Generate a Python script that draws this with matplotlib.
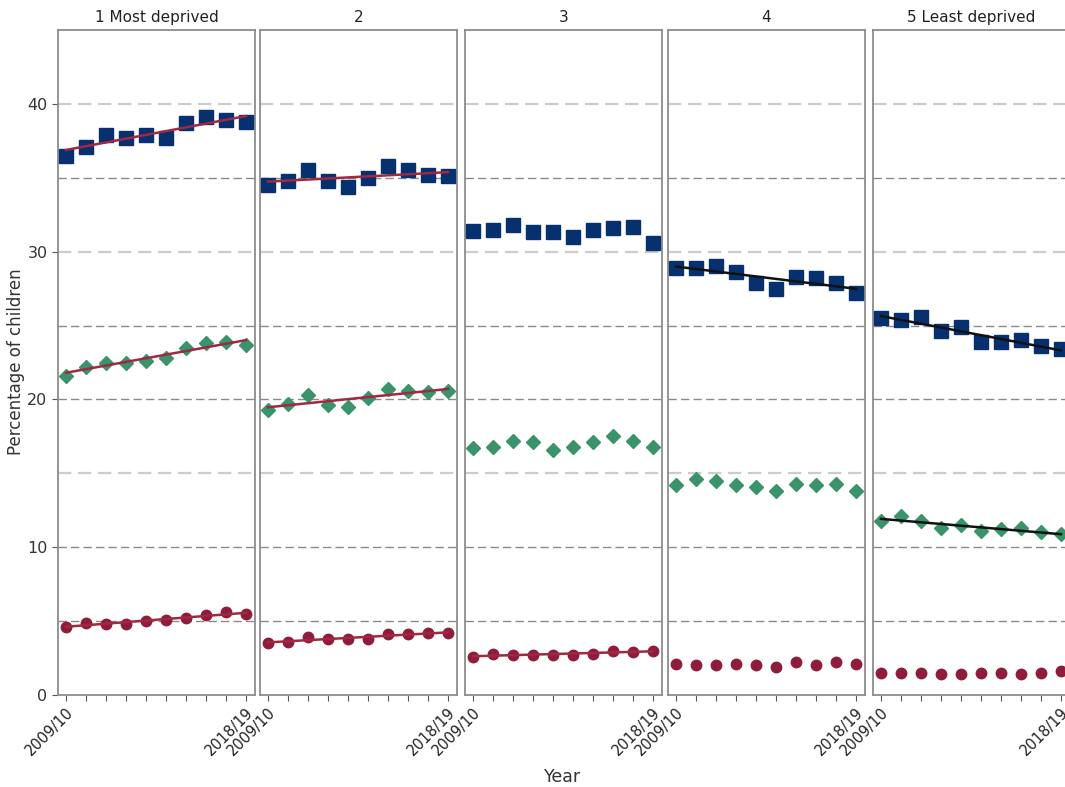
import matplotlib.pyplot as plt
import numpy as np

# quintiles of deprivation, one panel each
panels = ["1 Most deprived", "2", "3", "4", "5 Least deprived"]
years = ["2009/10", "2010/11", "2011/12", "2012/13", "2013/14",
         "2014/15", "2015/16", "2016/17", "2017/18", "2018/19"]

# overweight or obese (squares)
sq_vals = [
    [36.5, 37.1, 37.9, 37.7, 37.9, 37.7, 38.7, 39.1, 38.9, 38.8],
    [34.5, 34.8, 35.5, 34.8, 34.4, 35.0, 35.8, 35.5, 35.2, 35.1],
    [31.4, 31.5, 31.8, 31.3, 31.3, 31.0, 31.5, 31.6, 31.7, 30.6],
    [28.9, 28.9, 29.0, 28.6, 27.9, 27.5, 28.3, 28.2, 27.9, 27.2],
    [25.5, 25.4, 25.6, 24.6, 24.9, 23.9, 23.9, 24.0, 23.6, 23.4],
]
# obese (diamonds)
di_vals = [
    [21.6, 22.2, 22.5, 22.5, 22.6, 22.8, 23.5, 23.8, 23.9, 23.7],
    [19.3, 19.7, 20.3, 19.6, 19.5, 20.1, 20.7, 20.6, 20.5, 20.6],
    [16.7, 16.8, 17.2, 17.1, 16.6, 16.8, 17.1, 17.5, 17.2, 16.8],
    [14.2, 14.6, 14.5, 14.2, 14.1, 13.8, 14.3, 14.2, 14.3, 13.8],
    [11.8, 12.1, 11.8, 11.3, 11.5, 11.1, 11.2, 11.3, 11.0, 10.9],
]
# severely obese (circles)
ci_vals = [
    [4.6, 4.9, 4.8, 4.8, 5.0, 5.1, 5.2, 5.4, 5.6, 5.5],
    [3.5, 3.6, 3.9, 3.8, 3.8, 3.8, 4.1, 4.1, 4.2, 4.2],
    [2.6, 2.8, 2.7, 2.7, 2.7, 2.7, 2.8, 3.0, 2.9, 3.0],
    [2.1, 2.0, 2.0, 2.1, 2.0, 1.9, 2.2, 2.0, 2.2, 2.1],
    [1.5, 1.5, 1.5, 1.4, 1.4, 1.5, 1.5, 1.4, 1.5, 1.6],
]
# significant trend per panel: 'up', 'down' or None
sq_trend = ["up", "up", None, "down", "down"]
di_trend = ["up", "up", None, None, "down"]
ci_trend = ["up", "up", "up", None, None]

NAVY = "#06306e"
GREEN = "#3a936a"
RED = "#8e1c3a"
TREND_COL = {"up": "#a02840", "down": "#111111"}

fig = plt.figure(figsize=(10.65, 7.87), dpi=100)
W, H = 1065, 787
lefts = [58, 260, 465, 668, 873]
pw = 197
bottom, top = 695, 30

x = np.arange(len(years))
for i, name in enumerate(panels):
    ax = fig.add_axes([lefts[i] / W, 1 - bottom / H, pw / W, (bottom - top) / H])
    ax.set_xlim(-0.4, 9.45)
    ax.set_ylim(0, 45)

    for yv, light in [(5, False), (10, False), (15, True), (20, False),
                      (25, False), (30, True), (35, False), (40, True)]:
        ax.axhline(yv, color="#cccccc" if light else "#8a8a8a",
                   lw=1.6 if light else 1.0, ls=(0, (6, 3)), zorder=0)

    for vals, trend, mk, ms, col in [
        (sq_vals[i], sq_trend[i], "s", 9.5, NAVY),
        (di_vals[i], di_trend[i], "D", 7.5, GREEN),
        (ci_vals[i], ci_trend[i], "o", 7.5, RED),
    ]:
        ax.plot(x, vals, ls="none", marker=mk, ms=ms, color=col, zorder=3)
        if trend:
            b, a = np.polyfit(x, vals, 1)
            ax.plot(x, a + b * x, color=TREND_COL[trend], lw=1.8, zorder=4)

    for s in ax.spines.values():
        s.set_color("#8c8c8c")
        s.set_linewidth(1.3)

    ax.set_xticks(x)
    ax.set_xticklabels([years[0]] + [""] * 8 + [years[-1]],
                       rotation=45, ha="right", rotation_mode="anchor",
                       fontsize=10.5, color="#222222")
    ax.tick_params(axis="x", length=4, color="#555555", pad=3)
    if i == 0:
        ax.set_yticks([0, 10, 20, 30, 40])
        ax.tick_params(axis="y", length=4, color="#555555", labelsize=11.5,
                       labelcolor="#333333")
    else:
        ax.set_yticks([])
    ax.text(0.5, 1.008, name, transform=ax.transAxes, ha="center",
            va="bottom", fontsize=11, color="#222222")

fig.text(16 / W, 0.54, "Percentage of children", rotation=90, ha="center",
         va="center", fontsize=12, color="#333333")
fig.text(563 / W, 1 - 777 / H, "Year", ha="center", va="center",
         fontsize=12.5, color="#333333")

fig.savefig("out.png", dpi=100)
